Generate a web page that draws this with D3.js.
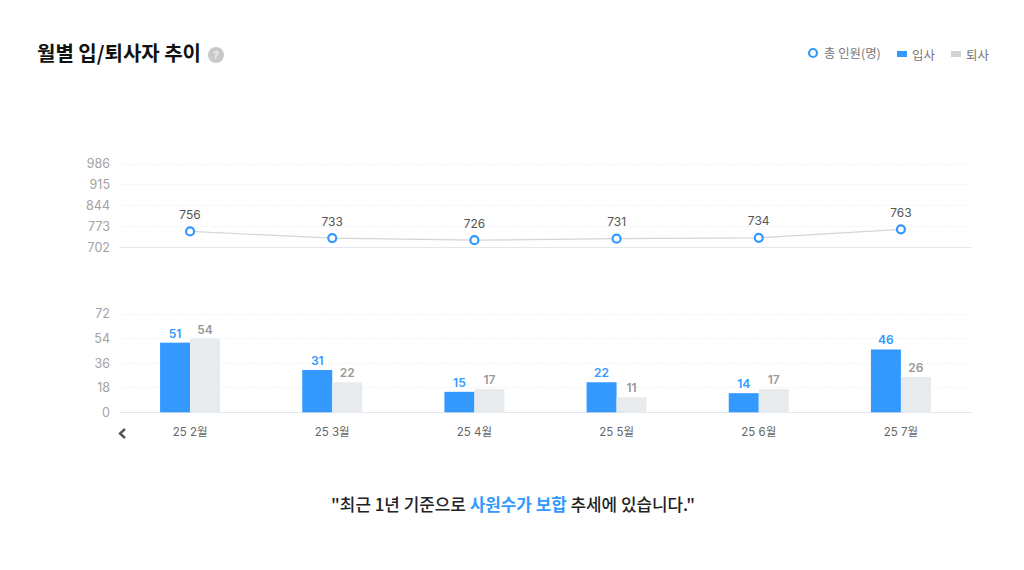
<!DOCTYPE html>
<html><head><meta charset="utf-8">
<script src="https://cdn.jsdelivr.net/npm/d3@7/dist/d3.min.js"></script>
<style>
html,body{margin:0;padding:0;background:#fff}
svg{display:block}
text{font-family:Inter,"Noto Sans CJK KR",sans-serif}
</style></head><body>
<svg id="c" width="1024" height="570"></svg>
<script>
const categories=["25 2월","25 3월","25 4월","25 5월","25 6월","25 7월"];
const totals=[756,733,726,731,734,763];
const joiners=[51,31,15,22,14,46];
const leavers=[54,22,17,11,17,26];
const lineTicks=[702,773,844,915,986];
const barTicks=[0,18,36,54,72];
const blue="#3399ff", grey="#e8ebed";

const svg=d3.select("#c");
const x=d3.scaleBand().domain(categories).range([119,972]);
const cx=c=>x(c)+x.bandwidth()/2;
const yL=d3.scaleLinear().domain([702,986]).range([247.2,164]);
const yB=d3.scaleLinear().domain([0,72]).range([412.3,314]);

function grid(scale,ticks){
  const g=svg.append("g");
  g.selectAll("line").data(ticks).join("line")
    .attr("x1",119).attr("x2",971)
    .attr("y1",d=>Math.floor(scale(d))+.5).attr("y2",d=>Math.floor(scale(d))+.5)
    .attr("stroke",(d,i)=>i==0?"#e3e6ea":"#f3f4f6")
    .attr("stroke-dasharray",(d,i)=>i==0?null:"2 1");
  g.selectAll("text").data(ticks).join("text")
    .attr("x",110).attr("y",d=>scale(d)+4.4).attr("text-anchor","end")
    .attr("font-size",12.5).attr("fill","#a3a3a3").text(d=>d);
}
grid(yL,lineTicks);
grid(yB,barTicks);

// line
svg.append("path").datum(totals)
  .attr("d",d3.line().x((d,i)=>cx(categories[i])).y(d=>yL(d)))
  .attr("fill","none").attr("stroke","#d4d4d4").attr("stroke-width",1.2);
svg.append("g").selectAll("circle").data(totals).join("circle")
  .attr("cx",(d,i)=>cx(categories[i])).attr("cy",d=>yL(d)).attr("r",4)
  .attr("fill","#fff").attr("stroke",blue).attr("stroke-width",2.2);
svg.append("g").selectAll("text").data(totals).join("text")
  .attr("x",(d,i)=>cx(categories[i])).attr("y",d=>yL(d)-12.6).attr("text-anchor","middle")
  .attr("font-size",12).attr("fill","#555").text(d=>d);

// bars
const bw=30;
function bars(vals,off,fill,tc,weight){
  const g=svg.append("g");
  g.selectAll("rect").data(vals).join("rect")
    .attr("x",(d,i)=>cx(categories[i])+off).attr("width",bw)
    .attr("y",d=>yB(d)).attr("height",d=>yB(0)-yB(d)).attr("fill",fill);
  g.selectAll("text").data(vals).join("text")
    .attr("x",(d,i)=>cx(categories[i])+off+bw/2).attr("y",d=>yB(d)-5).attr("text-anchor","middle")
    .attr("font-size",12).attr("font-weight",weight).attr("fill",tc).text(d=>d);
}
bars(joiners,-30,blue,blue,600);
bars(leavers,0,grey,"#999",600);

// category labels
svg.append("g").selectAll("text").data(categories).join("text")
  .attr("x",d=>cx(d)).attr("y",436).attr("text-anchor","middle")
  .attr("font-size",11.5).attr("fill","#666").text(d=>d);

// chevron
svg.append("path").attr("d",d3.line()([[125,429],[120,433.5],[125,438]]))
  .attr("fill","none").attr("stroke","#555").attr("stroke-width",2.4);

// title
svg.append("text").attr("x",37).attr("y",61).attr("font-size",20).attr("font-weight",700)
  .attr("fill","#111").style("font-family",'"Noto Sans CJK KR"').text("월별 입/퇴사자 추이");
svg.append("circle").attr("cx",216).attr("cy",55).attr("r",8).attr("fill","#c9c9c9");
svg.append("text").attr("x",216).attr("y",59).attr("text-anchor","middle").attr("font-size",10.5)
  .attr("font-weight",700).attr("fill","#eee").text("?");

// legend
svg.append("circle").attr("cx",813).attr("cy",53).attr("r",4).attr("fill","#fff").attr("stroke",blue).attr("stroke-width",2.2);
svg.append("text").attr("x",824).attr("y",57.5).attr("font-size",12.4).attr("fill","#777").style("font-family",'"Noto Sans CJK KR"').text("총 인원(명)");
svg.append("rect").attr("x",897).attr("y",51).attr("width",10).attr("height",6).attr("fill",blue);
svg.append("text").attr("x",912).attr("y",59.5).attr("font-size",12.4).attr("fill","#777").style("font-family",'"Noto Sans CJK KR"').text("입사");
svg.append("rect").attr("x",951).attr("y",51).attr("width",10).attr("height",6).attr("fill","#d4d4d4");
svg.append("text").attr("x",966).attr("y",59.5).attr("font-size",12.4).attr("fill","#777").style("font-family",'"Noto Sans CJK KR"').text("퇴사");

// caption
const cap=svg.append("text").attr("x",513).attr("y",511).attr("text-anchor","middle")
  .attr("font-size",16.9).attr("font-weight",500).attr("fill","#222").style("font-family",'"Noto Sans CJK KR"');
cap.append("tspan").text('"최근 1년 기준으로 ');
cap.append("tspan").attr("fill",blue).attr("font-weight",700).text("사원수가 보합");
cap.append("tspan").text(' 추세에 있습니다."');
</script></body></html>
